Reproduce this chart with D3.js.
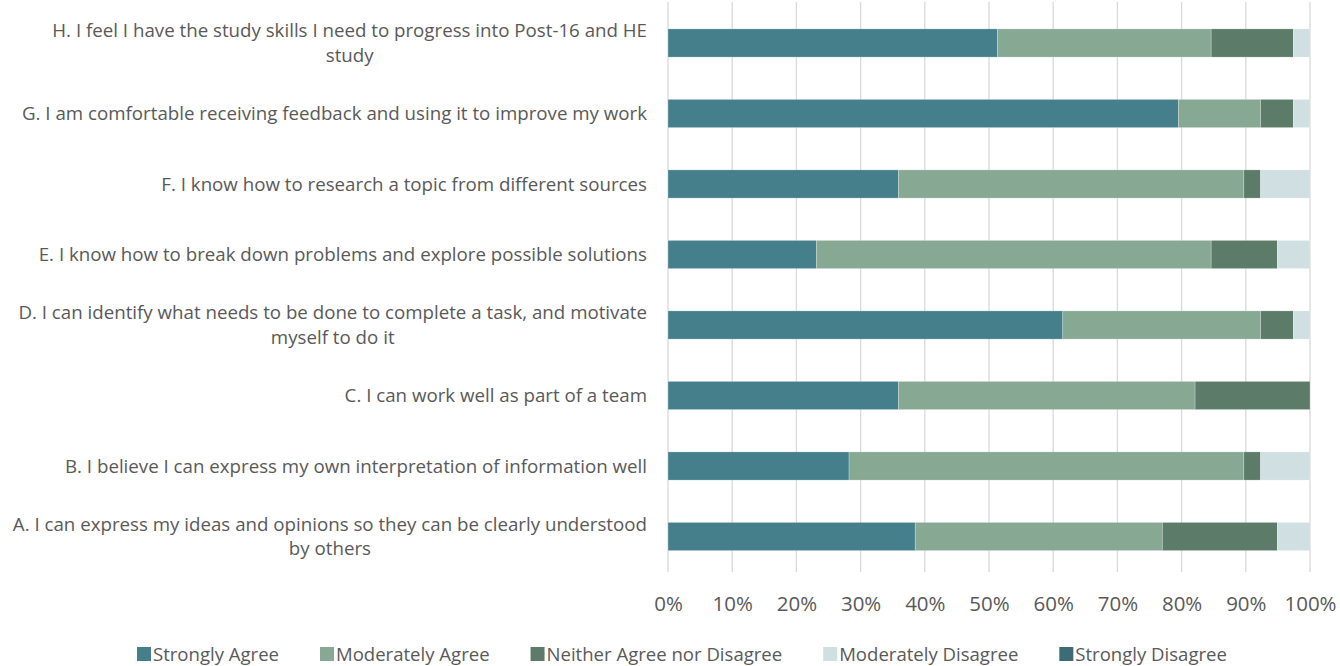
<!DOCTYPE html>
<html><head><meta charset="utf-8">
<script src="https://cdn.jsdelivr.net/npm/d3@7"></script>
<style>body{margin:0;background:#fff}svg{display:block}</style>
</head><body><svg id="c" width="1340" height="666"></svg>
<script>
const categories = [
  "H. I feel I have the study skills I need to progress into Post-16 and HE\nstudy",
  "G. I am comfortable receiving feedback and using it to improve my work",
  "F. I know how to research a topic from different sources",
  "E. I know how to break down problems and explore possible solutions",
  "D. I can identify what needs to be done to complete a task, and motivate\nmyself to do it",
  "C. I can work well as part of a team",
  "B. I believe I can express my own interpretation of information well",
  "A. I can express my ideas and opinions so they can be clearly understood\nby others"
];
const seriesNames = ["Strongly Agree","Moderately Agree","Neither Agree nor Disagree","Moderately Disagree","Strongly Disagree"];
const stronglyAgree      = [51.3, 79.5, 35.9, 23.1, 61.5, 35.9, 28.2, 38.5];
const moderatelyAgree    = [33.3, 12.8, 53.8, 61.5, 30.8, 46.2, 61.5, 38.5];
const neither            = [12.8,  5.1,  2.6, 10.3,  5.1, 17.9,  2.6, 17.9];
const moderatelyDisagree = [ 2.6,  2.6,  7.7,  5.1,  2.6,  0.0,  7.7,  5.1];
const stronglyDisagree   = [ 0.0,  0.0,  0.0,  0.0,  0.0,  0.0,  0.0,  0.0];
const tickValues = [0,10,20,30,40,50,60,70,80,90,100];
const colors = ["#467f8c","#87a893","#5c7c69","#d0dfe2","#3d6b76"];

const FONT = "'Open Sans', sans-serif";
const svg = d3.select("#c");
const TEXT = "#595959";

function measure(txt, size){
  const t = svg.append("text").attr("font-family",FONT).attr("font-size",size).text(txt);
  const w = t.node().getComputedTextLength(); t.remove(); return w;
}
const labelSize = 18.5, tickSize = 20.5, legendSize = 19;
// horizontal compression so widths match the reference's narrow font
const kLabel = 625/measure(categories[1],labelSize);
const kTick = 52/measure("100%",tickSize);
const kLegend = 126/measure("Strongly Agree",legendSize);

const allSeries = [stronglyAgree, moderatelyAgree, neither, moderatelyDisagree, stronglyDisagree];
const rows = categories.map((c,i)=>{ const r={cat:c}; seriesNames.forEach((s,j)=>r[s]=allSeries[j][i]); return r; });
const stacked = d3.stack().keys(seriesNames)(rows);

const x = d3.scaleLinear().domain([0,100]).range([668,1310]);
const y = d3.scaleBand().domain(categories).range([7.75,571.75]).paddingInner(0.6).paddingOuter(0.3);

svg.append("g").selectAll("line").data(tickValues).join("line")
  .attr("x1",d=>x(d)).attr("x2",d=>x(d)).attr("y1",2).attr("y2",572)
  .attr("stroke","#d9d9d9").attr("stroke-width",1.3);

svg.append("g").selectAll("g").data(stacked).join("g")
  .attr("fill",(d,i)=>colors[i])
  .selectAll("rect").data(d=>d).join("rect")
  .attr("x",d=>x(d[0])).attr("width",d=>Math.max(0,x(d[1])-x(d[0])))
  .attr("y",d=>y(d.data.cat)).attr("height",y.bandwidth())
  .attr("stroke","#ffffff").attr("stroke-opacity",0.5).attr("stroke-width",0.5);

const xAxis = d3.axisBottom(x).tickValues(tickValues).tickFormat(d=>d+"%").tickSize(0);
const gx = svg.append("g").attr("transform","translate(0,604)").call(xAxis);
gx.select(".domain").remove();
gx.selectAll("text").attr("font-family",FONT).attr("font-size",tickSize).attr("fill",TEXT)
  .attr("dy","0.36em").attr("y",0)
  .each(function(){ const w=this.getComputedTextLength(); d3.select(this).attr("textLength",w*kTick).attr("lengthAdjust","spacingAndGlyphs"); });

const lineH = 24.5, labelRight = 647;
categories.forEach(cat=>{
  const lines = cat.split("\n");
  const cy = y(cat)+y.bandwidth()/2;
  const widths = lines.map(l=>measure(l,labelSize)*kLabel);
  const blockW = d3.max(widths);
  const cx = labelRight - blockW/2;
  lines.forEach((l,k)=>{
    svg.append("text").attr("font-family",FONT).attr("font-size",labelSize).attr("fill",TEXT)
      .attr("text-anchor", lines.length>1 ? "middle" : "end")
      .attr("x", lines.length>1? cx : labelRight)
      .attr("y", cy + (k-(lines.length-1)/2)*lineH).attr("dy","0.36em")
      .attr("textLength",widths[k]).attr("lengthAdjust","spacingAndGlyphs").text(l);
  });
});

// legend: items laid out left to right
const lg = svg.append("g").attr("transform","translate(0,654)");
let lx = 137;
seriesNames.forEach((s,i)=>{
  const tw = measure(s,legendSize)*kLegend;
  lg.append("rect").attr("x",lx).attr("y",-7).attr("width",14).attr("height",14).attr("fill",colors[i]);
  lg.append("text").attr("x",lx+16).attr("y",0).attr("dy","0.36em")
    .attr("font-family",FONT).attr("font-size",legendSize).attr("fill",TEXT)
    .attr("textLength",tw).attr("lengthAdjust","spacingAndGlyphs").text(s);
  lx += 16 + tw + 41;
});
</script></body></html>
